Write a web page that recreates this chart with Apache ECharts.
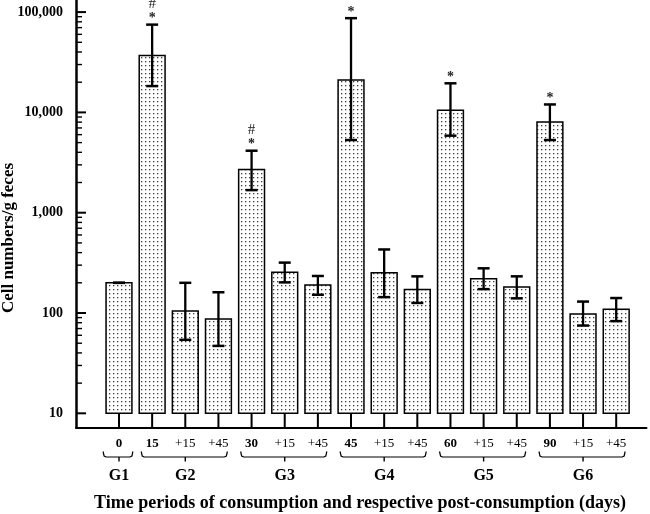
<!DOCTYPE html>
<html><head><meta charset="utf-8">
<script src="https://cdn.jsdelivr.net/npm/echarts@6/dist/echarts.min.js"></script>
<style>html,body{margin:0;padding:0;background:#fff}#c{width:650px;height:514px}</style>
</head><body><div id="c"></div>
<script>
// ---- data ----
const categories = ['0','15','+15','+45','30','+15','+45','45','+15','+45','60','+15','+45','90','+15','+45'];
const means      = [200, 37000, 105, 87, 2700, 255, 190, 21000, 252, 172, 10500, 220, 182, 8000, 98, 109];
const upperErr   = [200, 75000, 200, 161, 4150, 318, 234, 87000, 430, 232, 19500, 279, 232, 12000, 130, 141];
const lowerErr   = [200, 18300, 54, 47, 1680, 202, 152, 5300, 144, 126, 5860, 173, 140, 5300, 75, 83];
const starMarks  = [0,1,0,0,1,0,0,1,0,0,1,0,0,1,0,0];
const hashMarks  = [0,1,0,0,1,0,0,0,0,0,0,0,0,0,0,0];
const groupNames = ['G1','G2','G3','G4','G5','G6'];
const groupFirst = [0,1,4,7,10,13];
const groupLast  = [0,3,6,9,12,15];
const yTickValues = [10,100,1000,10000,100000];
const yTickLabels = ['10','100','1,000','10,000','100,000'];
const yMinorMultipliers = [2,3,4,5,6,7,8,9];
const yAxisMin = 7.22, yAxisMax = 132000, barBase = 10;
const xAxisMin = -1.297, xAxisMax = 15.914;
const yTitle = 'Cell numbers/g feces';
const xTitle = 'Time periods of consumption and respective post-consumption (days)';

const FONT = '"Liberation Serif", "Times New Roman", serif';

// dotted fill pattern
const pc = document.createElement('canvas'); pc.width = 4; pc.height = 4;
const pctx = pc.getContext('2d');
pctx.fillStyle = '#fff'; pctx.fillRect(0,0,4,4);
pctx.fillStyle = '#3a3a3a'; pctx.fillRect(1,1,1.3,1.3);
const dots = { image: pc, repeat: 'repeat' };

const minorTicks = [];
yTickValues.slice(0, -1).forEach(d => yMinorMultipliers.forEach(k => minorTicks.push([0, k * d, 0])));
const majorTicks = yTickValues.map(v => [0, v, 1]);

const chart = echarts.init(document.getElementById('c'), null, {renderer: 'canvas'});
chart.setOption({
  animation: false,
  backgroundColor: '#fff',
  grid: { left: 76, right: 3.5, top: 0, bottom: 86.5, containLabel: false },
  xAxis: {
    type: 'value', min: xAxisMin, max: xAxisMax,
    axisLine: { show: true, onZero: false, lineStyle: { color: '#000', width: 2 } },
    axisTick: { show: false }, axisLabel: { show: false }, splitLine: { show: false }
  },
  yAxis: {
    type: 'log', logBase: 10, min: yAxisMin, max: yAxisMax,
    axisLine: { show: true, onZero: false, lineStyle: { color: '#000', width: 2.5 } },
    axisTick: { show: false }, splitLine: { show: false }, minorTick: { show: false },
    axisLabel: {
      show: true, margin: 13, color: '#000', fontFamily: FONT, fontWeight: 'bold', fontSize: 14,
      showMinLabel: true, showMaxLabel: true,
      formatter: v => {
        for (let k = 0; k < yTickValues.length; k++) {
          if (Math.abs(v - yTickValues[k]) / yTickValues[k] < 1e-6) return yTickLabels[k];
        }
        return '';
      }
    }
  },
  graphic: [
    { type: 'text', x: 9, y: 238, rotation: Math.PI / 2,
      style: { text: yTitle, font: 'bold 17px ' + FONT, fill: '#000', align: 'center', verticalAlign: 'middle' } },
    { type: 'text', x: 360, y: 503,
      style: { text: xTitle, font: 'bold 18px ' + FONT, fill: '#000', align: 'center', verticalAlign: 'middle' } }
  ],
  series: [
    {
      type: 'custom', name: 'yticks', clip: false, silent: true,
      encode: { x: 0, y: 1 },
      data: majorTicks.concat(minorTicks),
      renderItem: (params, api) => {
        const cs = params.coordSys;
        const p = api.coord([xAxisMin, api.value(1)]);
        const major = api.value(2) === 1;
        return { type: 'line', shape: { x1: cs.x, y1: p[1], x2: cs.x + (major ? 10 : 6), y2: p[1] },
          style: { stroke: '#000', lineWidth: major ? 2 : 1.4 } };
      }
    },
    {
      type: 'custom', name: 'bars', clip: false,
      encode: { x: 0, y: 1 },
      data: categories.map((c, i) => [i, means[i], lowerErr[i], upperErr[i]]),
      renderItem: (params, api) => {
        const i = api.value(0);
        const cs = params.coordSys;
        const bottom = cs.y + cs.height;
        const base = api.coord([i, barBase]);
        const top = api.coord([i, api.value(1)]);
        const lo = api.coord([i, api.value(2)]);
        const hi = api.coord([i, api.value(3)]);
        const w = api.size([0.78, 1])[0];
        const cx = top[0];
        const capW = 6;
        const label = categories[i];
        const bold = label.charAt(0) !== '+';
        const ch = [
          { type: 'line', shape: { x1: cx, y1: bottom, x2: cx, y2: base[1] }, style: { stroke: '#000', lineWidth: 2 } },
          { type: 'rect', shape: { x: cx - w / 2, y: top[1], width: w, height: base[1] - top[1] },
            style: { fill: dots, stroke: '#000', lineWidth: 1.5 } },
          { type: 'line', shape: { x1: cx, y1: lo[1], x2: cx, y2: hi[1] }, style: { stroke: '#000', lineWidth: 2.3 } },
          { type: 'line', shape: { x1: cx - capW, y1: hi[1], x2: cx + capW, y2: hi[1] }, style: { stroke: '#000', lineWidth: 2.5 } },
          { type: 'line', shape: { x1: cx - capW, y1: lo[1], x2: cx + capW, y2: lo[1] }, style: { stroke: '#000', lineWidth: 2.5 } },
          { type: 'text', style: { text: label, x: cx, y: bottom + 16.5, align: 'center', verticalAlign: 'middle',
              font: (bold ? 'bold ' : '') + '13px ' + FONT, fill: '#000' } }
        ];
        if (starMarks[i]) ch.push({ type: 'text', style: { text: '*', x: cx, y: hi[1] - 6, align: 'center', verticalAlign: 'middle',
              font: 'bold 14px ' + FONT, fill: '#222' } });
        if (hashMarks[i]) ch.push({ type: 'text', style: { text: '#', x: cx, y: hi[1] - 21, align: 'center', verticalAlign: 'middle',
              font: '15px ' + FONT, fill: '#222' } });
        return { type: 'group', children: ch };
      }
    },
    {
      type: 'custom', name: 'groups', clip: false, silent: true,
      encode: { x: [0, 1], y: 2 },
      data: groupNames.map((g, k) => [groupFirst[k], groupLast[k], barBase]),
      renderItem: (params, api) => {
        const k = params.dataIndex;
        const cs = params.coordSys;
        const bottom = cs.y + cs.height;
        const f = api.value(0), l = api.value(1);
        const single = f === l;
        const x0 = api.coord([f - (single ? 0.48 : 0.33), barBase])[0];
        const x1 = api.coord([l + (single ? 0.42 : 0.27), barBase])[0];
        const xc = (api.coord([f, barBase])[0] + api.coord([l, barBase])[0]) / 2;
        const yh = bottom + 24, ym = bottom + 29.5, ys = bottom + 34;
        return { type: 'group', children: [
          { type: 'polyline', shape: { points: [[x0, yh], [x0 + 1, ym - 1], [x0 + 3, ym], [x1 - 3, ym], [x1 - 1, ym - 1], [x1, yh]] },
            style: { stroke: '#000', lineWidth: 1.2, fill: null } },
          { type: 'line', shape: { x1: xc, y1: ym, x2: xc, y2: ys }, style: { stroke: '#000', lineWidth: 1.4 } },
          { type: 'text', style: { text: groupNames[k], x: xc, y: bottom + 48, align: 'center', verticalAlign: 'middle',
              font: 'bold 16px ' + FONT, fill: '#000' } }
        ] };
      }
    }
  ]
});
</script>
</body></html>
